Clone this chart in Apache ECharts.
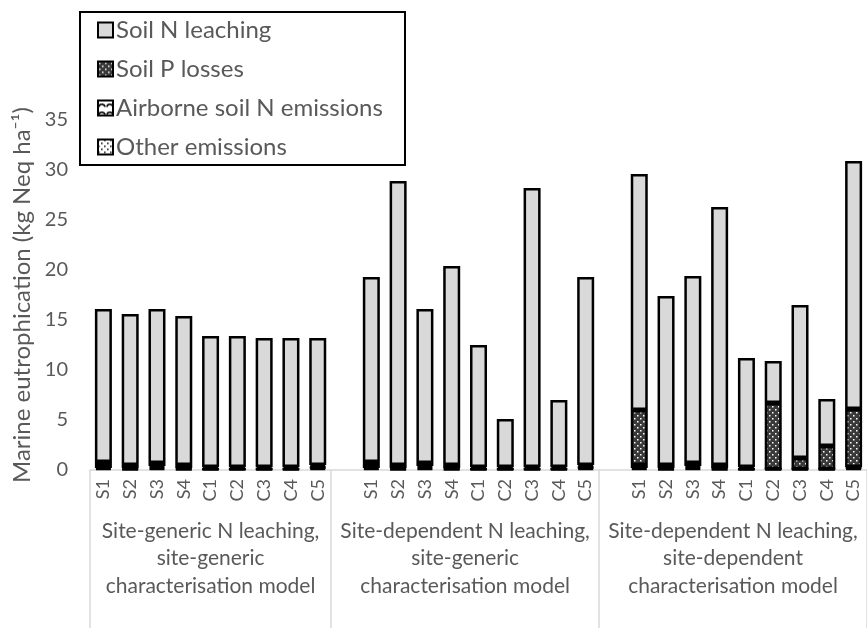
<!DOCTYPE html>
<html>
<head>
<meta charset="utf-8">
<script src="https://cdn.jsdelivr.net/npm/echarts@6/dist/echarts.min.js"></script>
<style>
html,body{margin:0;padding:0;background:#fff;}
#c{width:867px;height:628px;}
</style>
</head>
<body>
<div id="c"></div>
<script>
// ---- data ----
const sites = ['S1','S2','S3','S4','C1','C2','C3','C4','C5'];
const groupLabels = [
  'Site-generic N leaching,\nsite-generic\ncharacterisation model',
  'Site-dependent N leaching,\nsite-generic\ncharacterisation model',
  'Site-dependent N leaching,\nsite-dependent\ncharacterisation model'
];
const seriesNames = ['Soil N leaching','Soil P losses','Airborne soil N emissions','Other emissions'];
const yTicks = [0,5,10,15,20,25,30,35];

// Group 1: site-generic N leaching, site-generic characterisation model
const leachG1 = [15.3,15.1,15.4,14.9,13.1,13.1,12.9,12.9,12.7];
const pG1     = [0.3,0.3,0.3,0.3,0.2,0.2,0.2,0.2,0.2];
const airG1   = [0.3,0.1,0.2,0.1,0.0,0.0,0.0,0.0,0.1];
const otherG1 = [0.2,0.1,0.2,0.1,0.1,0.1,0.1,0.1,0.2];
// Group 2: site-dependent N leaching, site-generic characterisation model
const leachG2 = [18.5,28.4,15.4,19.9,12.2,4.8,27.9,6.7,18.8];
const pG2     = [0.3,0.3,0.3,0.3,0.2,0.2,0.2,0.2,0.2];
const airG2   = [0.3,0.1,0.2,0.1,0.0,0.0,0.0,0.0,0.1];
const otherG2 = [0.2,0.1,0.2,0.1,0.1,0.1,0.1,0.1,0.2];
// Group 3: site-dependent N leaching, site-dependent characterisation model
const leachG3 = [23.6,16.9,18.7,25.8,10.9,4.2,15.3,4.7,24.8];
const pG3     = [5.5,0.3,0.3,0.3,0.2,6.6,1.1,2.3,5.8];
const airG3   = [0.3,0.1,0.2,0.1,0.0,0.0,0.0,0.0,0.1];
const otherG3 = [0.2,0.1,0.2,0.1,0.1,0.1,0.1,0.1,0.2];

// ---- build (blank slot between groups) ----
function join3(a,b,c){ return a.concat(['-'], b, ['-'], c); }
const categories = sites.concat([''], sites, [''], sites);
const leach = join3(leachG1, leachG2, leachG3);
const pLoss = join3(pG1, pG2, pG3);
const air   = join3(airG1, airG2, airG3);
const other = join3(otherG1, otherG2, otherG3);
const groupSpans = [[0,8],[9,18],[19,28]];

// ---- patterns ----
function pattern(size, draw){
  const c = document.createElement('canvas');
  c.width = size; c.height = size;
  draw(c.getContext('2d'));
  return {image: c, repeat: 'repeat'};
}
const pDots = pattern(6, ctx => {
  ctx.fillStyle = '#3a3a3a'; ctx.fillRect(0,0,6,6);
  ctx.fillStyle = '#ffffff';
  ctx.fillRect(1,1,1.5,1.5); ctx.fillRect(4,4,1.5,1.5);
});
const airPat = pattern(8, ctx => {
  ctx.fillStyle = '#fff'; ctx.fillRect(0,0,8,8);
  ctx.strokeStyle = '#000'; ctx.lineWidth = 1.6;
  ctx.beginPath(); ctx.arc(4,7,3.2,Math.PI*1.05,Math.PI*1.95); ctx.stroke();
});
const otherPat = pattern(6, ctx => {
  ctx.fillStyle = '#ffffff'; ctx.fillRect(0,0,6,6);
  ctx.fillStyle = '#222';
  ctx.fillRect(0,0,1.6,1.6); ctx.fillRect(3,3,1.6,1.6);
});

const FONT = 'Lato';
const TXT = '#595959';

const chart = echarts.init(document.getElementById('c'), null, {renderer:'canvas'});

function bar(name, data, color){
  return {
    name, type:'bar', stack:'t', data, barWidth: 17,
    itemStyle:{color, borderColor:'#000', borderWidth:2.5},
    emphasis:{disabled:true}
  };
}

chart.setOption({
  animation:false,
  textStyle:{fontFamily:FONT},
  grid:{left:90, right:-6, top:120, bottom:158, containLabel:false},
  legend:{
    orient:'vertical', left:92, top:13,
    itemWidth:15, itemHeight:15, itemGap:15,
    icon:'rect',
    textStyle:{fontFamily:FONT, fontSize:24, lineHeight:24, color:TXT, padding:[0,0,0,-2]},
    data:seriesNames,
    selectedMode:false
  },
  xAxis:{
    type:'category', data:categories,
    axisLine:{lineStyle:{color:'#d9d9d9', width:1.5}},
    axisTick:{show:false},
    axisLabel:{interval:0, rotate:90, fontFamily:FONT, fontSize:18, color:TXT, margin:9}
  },
  yAxis:{
    type:'value', min:yTicks[0], max:yTicks[yTicks.length-1], interval:5,
    axisLine:{show:false}, axisTick:{show:false}, splitLine:{show:false},
    axisLabel:{fontFamily:FONT, fontSize:20, color:TXT, margin:22},
    name:'Marine eutrophication (kg Neq ha⁻¹)',
    nameLocation:'middle', nameGap:54, nameRotate:90,
    nameTextStyle:{fontFamily:FONT, fontSize:24, color:TXT}
  },
  series:[
    bar('Other emissions', other, otherPat),
    bar('Airborne soil N emissions', air, airPat),
    bar('Soil P losses', pLoss, pDots),
    bar('Soil N leaching', leach, '#d9d9d9')
  ]
});

// group labels and separators, positioned from the axis scale
const c0 = chart.convertToPixel({xAxisIndex:0}, 0);
const c1 = chart.convertToPixel({xAxisIndex:0}, 1);
const band = c1 - c0;
const yBase = chart.convertToPixel({yAxisIndex:0}, 0);
const graphics = [];
const bounds = new Set();
groupSpans.forEach((sp, i) => {
  const x0 = chart.convertToPixel({xAxisIndex:0}, sp[0]) - band/2;
  const x1 = chart.convertToPixel({xAxisIndex:0}, sp[1]) + band/2;
  bounds.add(Math.round(x0*2)/2); bounds.add(Math.round(x1*2)/2);
  graphics.push({
    type:'text', x:(x0+x1)/2, y: yBase + 47, z:10,
    style:{text:groupLabels[i], fill:TXT, font:'21px '+FONT, textAlign:'center', textVerticalAlign:'top', lineHeight:27.5}
  });
});
bounds.forEach(x => {
  graphics.push({type:'line', z:5, shape:{x1:x, y1:yBase, x2:x, y2:628}, style:{stroke:'#d9d9d9', lineWidth:1.5}});
});
graphics.push({type:'rect', z:0, shape:{x:80, y:12, width:325, height:153}, style:{fill:'#fff', stroke:'#000', lineWidth:2}});
chart.setOption({graphic:graphics});
</script>
</body>
</html>
